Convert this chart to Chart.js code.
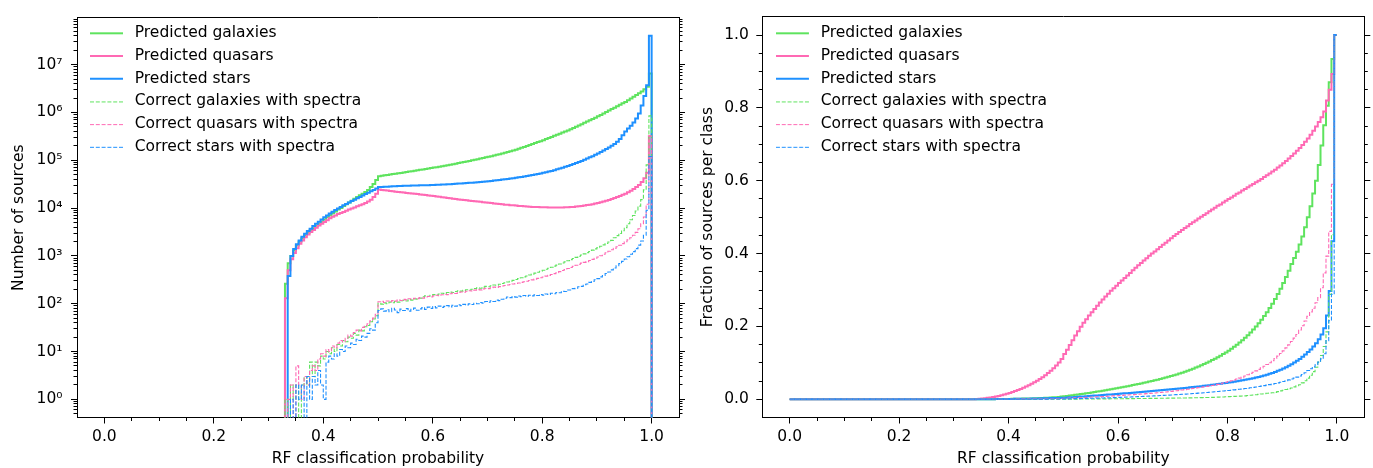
<!DOCTYPE html>
<html>
<head>
<meta charset="utf-8">
<script src="https://cdn.jsdelivr.net/npm/chart.js@4/dist/chart.umd.min.js"></script>
<style>
html,body{margin:0;padding:0;background:#fff;}
#wrap{position:relative;width:1373px;height:468px;overflow:hidden;background:#fff;}
#c1{position:absolute;left:0;top:0;}
#c2{position:absolute;left:686px;top:0;}
</style>
</head>
<body>
<div id="wrap">
<canvas id="c1" width="686" height="468"></canvas>
<canvas id="c2" width="687" height="468"></canvas>
</div>
<script>
// ---------------- DATA ----------------
const binStart = 0.33;   // left edge of first non-empty bin
const binWidth = 0.005;  // histogram bin width
const seriesLabels = ['Predicted galaxies','Predicted quasars','Predicted stars',
  'Correct galaxies with spectra','Correct quasars with spectra','Correct stars with spectra'];
const xTickValues = [0, 0.2, 0.4, 0.6, 0.8, 1.0];
const xTickLabels = ['0.0','0.2','0.4','0.6','0.8','1.0'];
const logTickValues = [1, 10, 100, 1e3, 1e4, 1e5, 1e6, 1e7];
const logTickLabels = ['10\u2070','10\u00B9','10\u00B2','10\u00B3','10\u2074','10\u2075','10\u2076','10\u2077'];
const fracTickValues = [0, 0.2, 0.4, 0.6, 0.8, 1.0];
const fracTickLabels = ['0.0','0.2','0.4','0.6','0.8','1.0'];
const xTitle = 'RF classification probability';
const yTitleLeft = 'Number of sources';
const yTitleRight = 'Fraction of sources per class';

// Left panel: counts per bin (bins from 0.330 to 0.995)
const countGal = [
 260,700,1000,1300,1650,2000,2350,2700,3050,3400,
 3800,4250,4700,5200,5800,6400,7100,7800,8500,9300,
 10100,11000,12000,13100,14300,15600,17000,18500,20000,21800,
 24000,27500,32000,38500,46500,47500,48400,49400,50400,51400,
 52400,53400,54500,55600,56800,58000,59200,60400,61700,63000,
 64400,65800,67300,68800,70300,71900,73600,75300,77100,79000,
 81000,83000,85100,87300,89600,92000,94500,97100,99800,102600,
 105500,108600,111800,115100,118500,122000,125800,129800,134000,138500,
 143900,149400,155000,160900,166000,173800,182000,190500,199500,208900,
 218800,229000,239900,251200,263000,277000,292000,308000,324000,342000,
 360000,380000,400000,422000,445000,473000,504000,536000,570000,607000,
 646000,687000,731000,778000,830000,890000,954000,1023000,1096000,1175000,
 1260000,1350000,1448000,1552000,1660000,1800000,1960000,2130000,2310000,2510000,
 2750000,3050000,3450000,6500000];
const countQso = [
 130,500,850,1150,1450,1800,2100,2450,2800,3150,
 3500,3900,4300,4700,5100,5600,6100,6600,7000,7500,
 7900,8300,8800,9300,9800,10300,10900,11500,12100,12800,
 13700,15000,17000,20000,24500,24000,23600,23200,22800,22400,
 22000,21700,21400,21100,20800,20500,20200,19900,19600,19300,
 19000,18700,18400,18100,17800,17500,17200,16900,16600,16300,
 16000,15700,15500,15200,15000,14700,14500,14300,14100,13900,
 13700,13500,13300,13100,12900,12700,12500,12300,12200,12000,
 11800,11700,11500,11400,11300,11100,11000,10900,10800,10700,
 10600,10550,10500,10450,10400,10350,10300,10300,10250,10250,
 10300,10300,10350,10400,10500,10600,10750,10900,11100,11300,
 11550,11800,12100,12400,12800,13200,13700,14200,14800,15500,
 16200,17000,17900,18900,20000,21400,23000,25000,27500,30500,
 35000,42000,55000,320000];
const countStar = [
 0,380,1000,1400,1750,2100,2500,2900,3300,3700,
 4200,4700,5200,5800,6400,7000,7700,8400,9100,9800,
 10600,11400,12200,13100,14000,15000,16000,17100,18300,19600,
 21000,22500,24000,25800,27500,27700,27900,28100,28300,28500,
 28700,28900,29000,29200,29400,29500,29600,29700,29800,29900,
 30000,30100,30200,30300,30500,30700,30900,31100,31300,31500,
 31700,31900,32200,32500,32800,33100,33400,33700,34000,34400,
 34800,35200,35600,36000,36500,37000,37600,38200,38800,39400,
 40000,40700,41400,42200,43000,43900,44800,45800,46900,48000,
 49200,50400,51700,53100,54600,56200,58000,60000,62200,64600,
 67200,70000,73000,76300,79800,83600,87700,92200,97000,102500,
 108500,115000,122000,130000,139000,149000,160000,172000,186000,201000,
 220000,245000,280000,335000,400000,460000,530000,620000,750000,950000,
 1400000,2200000,3700000,40000000];
const countGalSpec = [
 1,0,2,1,2,0,2,3,2,6,
 3,6,5,8,7,10,9,12,10,14,
 13,17,16,20,19,24,22,28,27,33,
 35,42,48,56,102,98,104,100,108,105,
 112,108,115,118,114,122,119,126,124,130,
 140,146,143,150,155,152,160,166,163,171,
 175,172,180,186,183,190,196,193,201,208,
 214,211,222,230,227,238,246,243,256,265,
 275,285,296,308,320,334,348,364,380,398,
 416,436,456,478,500,525,552,580,610,642,
 676,712,750,790,835,882,932,985,1042,1103,
 1170,1240,1320,1400,1490,1590,1700,1820,1960,2110,
 2400,2650,2950,3350,3900,4700,5700,7000,8700,11000,
 15000,24000,80000,850000];
const countQsoSpec = [
 0,1,2,0,5,2,1,3,2,4,
 5,4,7,9,8,11,10,13,12,15,
 17,16,19,22,21,25,28,27,32,35,
 38,44,50,60,110,112,106,114,110,116,
 113,120,117,123,120,127,124,130,128,134,
 131,138,142,139,146,150,147,154,158,155,
 162,167,164,172,176,174,182,187,184,192,
 198,195,204,210,207,216,222,219,228,234,
 240,246,252,258,265,272,280,288,296,305,
 315,326,338,350,363,377,392,408,425,443,
 470,495,520,546,574,604,636,670,705,732,
 760,800,845,895,950,1010,1080,1160,1250,1340,
 1440,1550,1670,1810,1970,2160,2400,2700,3100,3700,
 4700,6500,12000,320000];
const countStarSpec = [
 0,0,1,0,2,1,2,0,3,1,
 3,2,4,2,1,6,8,7,9,8,
 11,10,13,12,15,14,18,17,21,20,
 24,30,28,40,72,78,70,75,68,80,
 74,65,77,72,79,70,76,81,73,78,
 83,76,85,80,87,82,89,84,88,91,
 86,93,89,95,91,97,94,99,96,102,
 100,106,103,111,107,115,111,119,116,124,
 130,138,134,141,137,145,141,148,144,150,
 146,153,148,156,151,160,156,165,162,172,
 170,182,180,193,193,207,210,226,231,250,
 258,280,292,318,335,365,390,428,462,510,
 560,620,690,770,860,960,1080,1230,1420,1680,
 2050,2700,9000,120000];

// Right panel: cumulative fraction per bin (bins from 0.330 to 0.995; all bins below are 0)
const fracGal = [
 0.0000,0.0000,0.0001,0.0001,0.0002,0.0002,0.0003,0.0003,0.0004,0.0005,
 0.0006,0.0007,0.0008,0.0009,0.0010,0.0012,0.0013,0.0015,0.0017,0.0019,
 0.0021,0.0023,0.0025,0.0028,0.0031,0.0034,0.0037,0.0041,0.0045,0.0049,
 0.0054,0.0059,0.0066,0.0074,0.0083,0.0093,0.0102,0.0112,0.0122,0.0132,
 0.0143,0.0154,0.0165,0.0176,0.0187,0.0199,0.0211,0.0223,0.0235,0.0248,
 0.0261,0.0274,0.0287,0.0301,0.0315,0.0329,0.0344,0.0359,0.0374,0.0390,
 0.0406,0.0421,0.0436,0.0452,0.0468,0.0485,0.0502,0.0520,0.0538,0.0557,
 0.0576,0.0596,0.0616,0.0637,0.0659,0.0682,0.0706,0.0731,0.0757,0.0784,
 0.0812,0.0841,0.0871,0.0902,0.0934,0.0968,0.1003,0.1039,0.1076,0.1115,
 0.1155,0.1197,0.1241,0.1287,0.1335,0.1386,0.1440,0.1497,0.1557,0.1620,
 0.1687,0.1758,0.1833,0.1913,0.1998,0.2088,0.2183,0.2284,0.2391,0.2505,
 0.2626,0.2755,0.2892,0.3037,0.3191,0.3354,0.3528,0.3712,0.3880,0.4050,
 0.4250,0.4470,0.4720,0.5000,0.5300,0.5650,0.6000,0.6430,0.6970,0.7520,
 0.8060,0.8700,0.9340,1.0000];
const fracQso = [
 0.0001,0.0004,0.0009,0.0015,0.0022,0.0030,0.0040,0.0051,0.0063,0.0077,
 0.0093,0.0111,0.0131,0.0152,0.0175,0.0200,0.0226,0.0254,0.0284,0.0316,
 0.0350,0.0386,0.0425,0.0466,0.0510,0.0557,0.0607,0.0661,0.0719,0.0782,
 0.0851,0.0927,0.1012,0.1107,0.1240,0.1360,0.1490,0.1620,0.1750,0.1870,
 0.1990,0.2100,0.2200,0.2300,0.2390,0.2480,0.2570,0.2660,0.2740,0.2820,
 0.2900,0.2980,0.3050,0.3120,0.3190,0.3260,0.3330,0.3400,0.3470,0.3540,
 0.3610,0.3680,0.3740,0.3810,0.3870,0.3940,0.4000,0.4060,0.4120,0.4180,
 0.4240,0.4300,0.4360,0.4420,0.4480,0.4540,0.4590,0.4650,0.4700,0.4750,
 0.4810,0.4860,0.4910,0.4960,0.5010,0.5060,0.5110,0.5160,0.5210,0.5260,
 0.5310,0.5350,0.5400,0.5450,0.5500,0.5540,0.5590,0.5640,0.5680,0.5730,
 0.5770,0.5820,0.5870,0.5910,0.5960,0.6000,0.6050,0.6100,0.6150,0.6200,
 0.6250,0.6300,0.6360,0.6420,0.6480,0.6540,0.6610,0.6680,0.6750,0.6820,
 0.6900,0.6980,0.7070,0.7160,0.7260,0.7370,0.7490,0.7610,0.7740,0.7900,
 0.8200,0.8500,0.8930,1.0000];
const fracStar = [
 0.0000,0.0000,0.0001,0.0001,0.0002,0.0002,0.0003,0.0003,0.0004,0.0005,
 0.0006,0.0007,0.0008,0.0009,0.0010,0.0011,0.0012,0.0013,0.0014,0.0016,
 0.0017,0.0018,0.0020,0.0021,0.0023,0.0024,0.0026,0.0028,0.0030,0.0032,
 0.0034,0.0036,0.0038,0.0041,0.0044,0.0048,0.0053,0.0058,0.0063,0.0068,
 0.0074,0.0079,0.0085,0.0090,0.0096,0.0101,0.0107,0.0112,0.0118,0.0123,
 0.0129,0.0134,0.0140,0.0146,0.0151,0.0157,0.0163,0.0169,0.0175,0.0181,
 0.0187,0.0193,0.0200,0.0206,0.0213,0.0219,0.0226,0.0232,0.0239,0.0246,
 0.0252,0.0259,0.0266,0.0273,0.0281,0.0288,0.0296,0.0303,0.0311,0.0319,
 0.0327,0.0335,0.0343,0.0352,0.0360,0.0369,0.0378,0.0388,0.0397,0.0407,
 0.0417,0.0427,0.0438,0.0449,0.0460,0.0471,0.0483,0.0495,0.0508,0.0521,
 0.0535,0.0549,0.0564,0.0580,0.0597,0.0615,0.0634,0.0654,0.0676,0.0699,
 0.0724,0.0751,0.0780,0.0811,0.0845,0.0881,0.0920,0.0962,0.1007,0.1056,
 0.1109,0.1166,0.1228,0.1296,0.1370,0.1450,0.1540,0.1650,0.1780,0.1950,
 0.2300,0.2970,0.4340,1.0000];
const fracGalSpec = [
 0,0,0,0,0,0,0,0,0,0.00001,
 0.00001,0.00001,0.00001,0.00002,0.00002,0.00002,0.00003,0.00003,0.00004,0.00004,
 0.00005,0.00006,0.00007,0.00008,0.00009,0.0001,0.00011,0.00013,0.00014,0.00016,
 0.00018,0.0002,0.00022,0.00025,0.0003,0.00035,0.0004,0.00045,0.0005,0.00055,
 0.0006,0.00065,0.0007,0.00075,0.0008,0.0009,0.00095,0.001,0.0011,0.00115,
 0.0012,0.0013,0.0014,0.0014,0.0015,0.0016,0.0017,0.0017,0.0018,0.0019,
 0.0020,0.0021,0.0022,0.0022,0.0023,0.0024,0.0025,0.0026,0.0027,0.0028,
 0.0029,0.0030,0.0031,0.0032,0.0033,0.0034,0.0035,0.0036,0.0037,0.0039,
 0.0040,0.0041,0.0043,0.0044,0.0046,0.0047,0.0049,0.0051,0.0053,0.0055,
 0.0058,0.0061,0.0064,0.0068,0.0072,0.0076,0.0080,0.0084,0.0088,0.0091,
 0.0095,0.0102,0.0110,0.0118,0.0126,0.0135,0.0144,0.0154,0.0164,0.0172,
 0.0180,0.0190,0.0210,0.0230,0.0250,0.0270,0.0290,0.0310,0.0340,0.0370,
 0.0400,0.0450,0.0510,0.0580,0.0660,0.0760,0.0880,0.1020,0.1200,0.1450,
 0.1850,0.2880,0.4520,1.0000];
const fracQsoSpec = [
 0,0,0,0,0.0001,0.0001,0.0001,0.0001,0.0001,0.0001,
 0.0002,0.0002,0.0002,0.0003,0.0003,0.0003,0.0004,0.0004,0.0005,0.0005,
 0.0006,0.0006,0.0007,0.0008,0.0009,0.0010,0.0011,0.0012,0.0013,0.0014,
 0.0016,0.0017,0.0019,0.0021,0.0025,0.0028,0.0032,0.0035,0.0039,0.0042,
 0.0046,0.0050,0.0053,0.0057,0.0061,0.0065,0.0069,0.0073,0.0077,0.0081,
 0.0085,0.0090,0.0094,0.0099,0.0103,0.0108,0.0113,0.0118,0.0123,0.0128,
 0.0133,0.0138,0.0144,0.0149,0.0155,0.0161,0.0167,0.0173,0.0179,0.0185,
 0.0192,0.0200,0.0208,0.0216,0.0225,0.0234,0.0244,0.0254,0.0265,0.0277,
 0.0290,0.0300,0.0310,0.0320,0.0331,0.0342,0.0354,0.0366,0.0379,0.0392,
 0.0410,0.0428,0.0447,0.0467,0.0488,0.0510,0.0533,0.0557,0.0582,0.0608,
 0.0640,0.0672,0.0706,0.0742,0.0780,0.0820,0.0863,0.0908,0.0955,0.1005,
 0.1060,0.1120,0.1185,0.1255,0.1330,0.1410,0.1495,0.1585,0.1680,0.1780,
 0.1900,0.2020,0.2150,0.2280,0.2400,0.2500,0.2650,0.2790,0.3060,0.3470,
 0.3930,0.4610,0.5900,1.0000];
const fracStarSpec = [
 0,0,0,0,0,0,0,0,0,0,
 0,0,0,0.0001,0.0001,0.0001,0.0001,0.0001,0.0002,0.0002,
 0.0002,0.0002,0.0003,0.0003,0.0003,0.0004,0.0004,0.0005,0.0005,0.0006,
 0.0006,0.0007,0.0008,0.0009,0.0011,0.0012,0.0014,0.0015,0.0017,0.0018,
 0.0020,0.0022,0.0024,0.0026,0.0028,0.0030,0.0032,0.0034,0.0036,0.0038,
 0.0040,0.0043,0.0046,0.0049,0.0052,0.0055,0.0058,0.0061,0.0064,0.0067,
 0.0070,0.0073,0.0077,0.0080,0.0084,0.0087,0.0091,0.0095,0.0099,0.0103,
 0.0107,0.0111,0.0115,0.0119,0.0124,0.0128,0.0133,0.0137,0.0142,0.0147,
 0.0152,0.0157,0.0162,0.0168,0.0174,0.0180,0.0186,0.0192,0.0198,0.0205,
 0.0212,0.0219,0.0226,0.0234,0.0242,0.0250,0.0258,0.0267,0.0276,0.0285,
 0.0295,0.0305,0.0315,0.0326,0.0337,0.0349,0.0361,0.0374,0.0388,0.0402,
 0.0416,0.0432,0.0450,0.0469,0.0489,0.0510,0.0532,0.0556,0.0581,0.0608,
 0.0640,0.0680,0.0730,0.0790,0.0840,0.0890,0.0950,0.1020,0.1110,0.1250,
 0.1610,0.2160,0.2880,1.0000];

// ---------------- STYLE ----------------
const GREEN = '#5ee35e', PINK = '#ff69b4', BLUE = '#1e90ff';
const STYLE = [
  {color: GREEN, width: 2, dash: []},
  {color: PINK,  width: 2, dash: []},
  {color: BLUE,  width: 2, dash: []},
  {color: GREEN, width: 1.1, dash: [4, 1.8]},
  {color: PINK,  width: 1.1, dash: [4, 1.8]},
  {color: BLUE,  width: 1.1, dash: [4, 1.8]}
];
const FONT_TICK = 15.5, FONT_TITLE = 15.5, FONT_LEGEND = 15.5;
const LOG_FLOOR = 1e-3; // stands for an empty bin on the log axis (drawn below the axis)

Chart.defaults.font.family = "'DejaVu Sans', sans-serif";
Chart.defaults.font.size = 15.5;
Chart.defaults.color = '#000';

function edgeAt(i) { return Math.round((binStart + i * binWidth) * 1000) / 1000; }
function histPoints(vals) {
  const pts = [{x: binStart, y: LOG_FLOOR}];
  vals.forEach((v, i) => pts.push({x: edgeAt(i), y: v > 0 ? v : LOG_FLOOR}));
  pts.push({x: 1.0, y: LOG_FLOOR});
  return pts;
}
function cumPoints(vals) {
  const pts = [{x: 0, y: 0}];
  vals.forEach((v, i) => pts.push({x: edgeAt(i), y: v}));
  pts.push({x: 1.0, y: vals[vals.length - 1]});
  return pts;
}
function makeDataset(i, pts) {
  const s = STYLE[i];
  return { label: seriesLabels[i], data: pts, borderColor: s.color, backgroundColor: s.color,
    borderWidth: s.width, borderDash: s.dash, stepped: 'before', pointRadius: 0, pointHoverRadius: 0,
    pointHitRadius: 0, fill: false, tension: 0, order: 5 - i, borderJoinStyle: 'miter', borderCapStyle: 'butt' };
}
const HANDLE_BOX = 37, HANDLE_LEN = 33;
function handleImage(i) {
  const s = STYLE[i];
  const c = document.createElement('canvas'); c.width = HANDLE_BOX; c.height = 6;
  const g = c.getContext('2d');
  g.strokeStyle = s.color; g.lineWidth = s.width; g.setLineDash(s.dash);
  const y = s.width % 2 === 0 ? 3 : 3.5;
  g.beginPath(); g.moveTo(0, y); g.lineTo(HANDLE_LEN, y); g.stroke();
  return c;
}
const handles = STYLE.map((s, i) => handleImage(i));

function minorLinear(min, max, step, majors) {
  const out = [];
  for (let k = Math.ceil(min / step); k * step <= max + 1e-9; k++) {
    const v = Math.round(k * step * 10000) / 10000;
    if (v <= min + 1e-9 || v >= max - 1e-9) continue;
    if (!majors.some(m => Math.abs(m - v) < 1e-9)) out.push(v);
  }
  return out;
}
function minorLog(min, max) {
  const out = [];
  for (let e = -2; e <= 8; e++) for (let m = 2; m <= 9; m++) {
    const v = m * Math.pow(10, e);
    if (v > min && v < max) out.push(v);
  }
  return out;
}

function axis(type, position, min, max, weight, tickValues, tickLen, size) {
  const horiz = position === 'top' || position === 'bottom';
  return {
    type, position, min, max, weight, offset: false,
    afterBuildTicks: s => { s.ticks = tickValues.map(v => ({value: v})); },
    afterFit: s => { if (horiz) s.height = size; else s.width = size; },
    grid: { display: true, drawOnChartArea: false, drawTicks: tickLen > 0, tickLength: tickLen,
            tickColor: '#000', tickWidth: 1 },
    border: { display: false },
    ticks: { display: false, autoSkip: false, maxRotation: 0, minRotation: 0 }
  };
}
function frame(a) { a.border = { display: true, color: '#000', width: 1 }; return a; }

const LEGEND_PAD = 7.2;
function legendOptions() {
  return {
    display: true, position: 'chartArea', align: 'start',
    labels: {
      usePointStyle: true, pointStyleWidth: HANDLE_BOX, boxHeight: 6, padding: LEGEND_PAD,
      font: {size: FONT_LEGEND}, color: '#000',
      sort: (a, b) => a.datasetIndex - b.datasetIndex,
      generateLabels: chart => Chart.defaults.plugins.legend.labels.generateLabels(chart)
        .map(l => Object.assign(l, {pointStyle: handles[l.datasetIndex], fontColor: '#000'}))
    }
  };
}
function legendMover(handleX, firstRowCenter) {
  const place = chart => {
    const lg = chart.legend; if (!lg) return;
    const pad = lg.options.labels.padding;
    lg.left = handleX - pad; lg.top = firstRowCenter - FONT_LEGEND / 2 - pad;
    lg.right = lg.left + 600; lg.bottom = lg.top + 390;
    lg.width = 600; lg.height = 390;
  };
  return { id: 'legendMover', afterLayout: place, afterUpdate: place };
}

// ---------------- LEFT PANEL ----------------
const LOG_MIN = Math.pow(10, -0.38), LOG_MAX = Math.pow(10, 7.98);
const xMinor = minorLinear(-0.05, 1.05, 0.05, xTickValues);
const logMinor = minorLog(LOG_MIN, LOG_MAX);

function xAxes(height) {
  const x = frame(axis('linear', 'bottom', -0.05, 1.05, 10, xTickValues, 6, height));
  x.ticks = { display: true, autoSkip: false, maxRotation: 0, minRotation: 0, padding: 4.5,
              font: {size: FONT_TICK}, callback: v => xTickLabels[xTickValues.indexOf(v)] };
  x.title = { display: true, text: xTitle, font: {size: FONT_TITLE}, padding: {top: 0, bottom: 0} };
  const xm = axis('linear', 'bottom', -0.05, 1.05, 0, xMinor, 3.5, 0);
  const xt = frame(axis('linear', 'top', -0.05, 1.05, 0, xTickValues, 0, 0));
  return {x, xm, xt};
}

const leftCounts = [countGal, countQso, countStar, countGalSpec, countQsoSpec, countStarSpec];
const yL = frame(axis('logarithmic', 'left', LOG_MIN, LOG_MAX, 10, logTickValues, 6, 77));
yL.ticks = { display: true, autoSkip: false, padding: 8.5, font: {size: FONT_TICK},
             callback: v => { const k = logTickValues.indexOf(v); return k >= 0 ? logTickLabels[k] : ''; } };
yL.title = { display: true, text: yTitleLeft, font: {size: FONT_TITLE}, padding: {top: 9.5, bottom: 0} };

new Chart(document.getElementById('c1'), {
  type: 'line',
  data: { datasets: leftCounts.map((vals, i) => makeDataset(i, histPoints(vals))) },
  options: {
    responsive: false, animation: false, devicePixelRatio: 1, events: [],
    layout: { padding: {top: 13, left: 0, right: 0, bottom: 0} },
    scales: Object.assign(xAxes(50.5), {
      y: yL,
      ym: axis('logarithmic', 'left', LOG_MIN, LOG_MAX, 0, logMinor, 3.5, 0),
      yr: frame(axis('logarithmic', 'right', LOG_MIN, LOG_MAX, 10, logTickValues, 6, 7)),
      yrm: axis('logarithmic', 'right', LOG_MIN, LOG_MAX, 0, logMinor, 3.5, 0)
    }),
    plugins: { legend: legendOptions(), tooltip: {enabled: false}, title: {display: false} }
  },
  plugins: [legendMover(90, 33.3)]
});

// ---------------- RIGHT PANEL ----------------
const rightFracs = [fracGal, fracQso, fracStar, fracGalSpec, fracQsoSpec, fracStarSpec];
const yMinor = minorLinear(-0.05, 1.05, 0.05, fracTickValues);
const yR = frame(axis('linear', 'left', -0.05, 1.05, 10, fracTickValues, 6, 76.3));
yR.ticks = { display: true, autoSkip: false, padding: 7.5, font: {size: FONT_TICK},
             callback: v => { const k = fracTickValues.indexOf(v); return k >= 0 ? fracTickLabels[k] : ''; } };
yR.title = { display: true, text: yTitleRight, font: {size: FONT_TITLE}, padding: {top: 13.1, bottom: 0} };

new Chart(document.getElementById('c2'), {
  type: 'line',
  data: { datasets: rightFracs.map((vals, i) => makeDataset(i, cumPoints(vals))) },
  options: {
    responsive: false, animation: false, devicePixelRatio: 1, events: [],
    layout: { padding: {top: 13, left: 0, right: 0, bottom: 0} },
    scales: Object.assign(xAxes(50.5), {
      y: yR,
      ym: axis('linear', 'left', -0.05, 1.05, 0, yMinor, 3.5, 0),
      yr: frame(axis('linear', 'right', -0.05, 1.05, 10, fracTickValues, 6, 8.7)),
      yrm: axis('linear', 'right', -0.05, 1.05, 0, yMinor, 3.5, 0)
    }),
    plugins: { legend: legendOptions(), tooltip: {enabled: false}, title: {display: false} }
  },
  plugins: [legendMover(89.9, 33.3)]
});
</script>
</body>
</html>
